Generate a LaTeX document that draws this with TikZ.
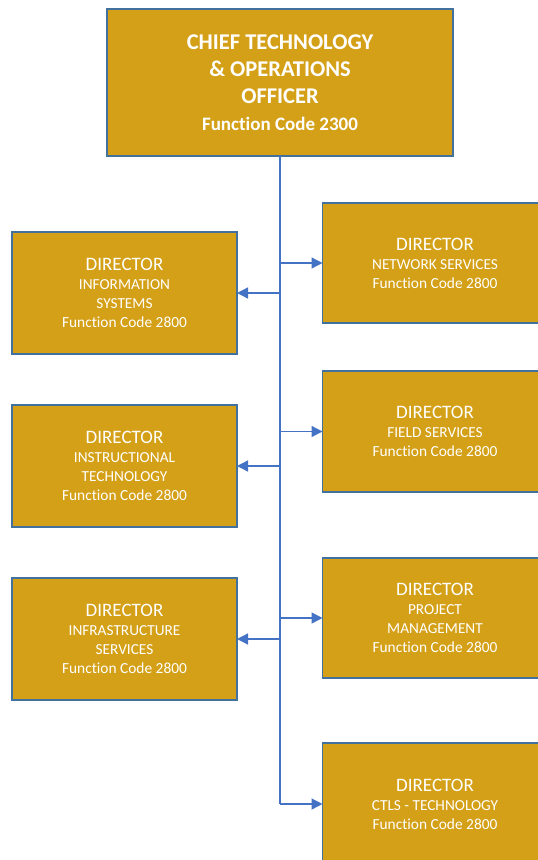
\documentclass[tikz,border=0pt]{standalone}
\usepackage{fontspec}
\setmainfont{Carlito}[Ligatures=NoCommon]
\usetikzlibrary{arrows.meta}
\definecolor{gold}{HTML}{D4A017}
\definecolor{edgeblue}{HTML}{41719C}
\definecolor{connblue}{HTML}{4472C4}
\newcommand{\dirtxt}[2]{{\fontsize{19}{19}\selectfont DIRECTOR}\\#1\\{\fontsize{15.4}{19}\selectfont Function Code #2}}
\begin{document}
\begin{tikzpicture}[x=1pt,y=-1pt,
  box/.style={draw=edgeblue, line width=1.6pt, fill=gold, text=white, align=center,
    inner sep=0pt, outer sep=0pt, minimum width=225pt, minimum height=122pt,
    font=\fontsize{15.3}{19}\selectfont},
  conn/.style={draw=connblue, line width=1.3pt},
  arr/.style={conn, -{Triangle[length=11pt,width=11pt]}}]
\useasboundingbox (0,0) rectangle (538,860);
\clip (0,0) rectangle (538,860);
\node[box, minimum width=346pt, minimum height=147pt, font=\fontsize{22.5}{27}\selectfont\bfseries] (cto) at (280,82.5)
  {CHIEF TECHNOLOGY\\\& OPERATIONS\\OFFICER\\{\fontsize{19}{25}\selectfont\bfseries Function Code 2300}};
\node[box] (is) at (124.5,293) {\dirtxt{INFORMATION\\SYSTEMS}{2800}};
\node[box] (it) at (124.5,466) {\dirtxt{INSTRUCTIONAL\\TECHNOLOGY}{2800}};
\node[box] (inf) at (124.5,639) {\dirtxt{INFRASTRUCTURE\\SERVICES}{2800}};
\node[box, minimum height=120pt] (ns) at (435,263) {\dirtxt{NETWORK SERVICES}{2800}};
\node[box, minimum height=121pt] (fs) at (435,431.5) {\dirtxt{FIELD SERVICES}{2800}};
\node[box, minimum height=120pt] (pm) at (435,618) {\dirtxt{PROJECT\\MANAGEMENT}{2800}};
\node[box, minimum height=122pt] (ctls) at (435,804) {\dirtxt{CTLS - TECHNOLOGY}{2800}};
\draw[conn] (cto.south) -- (cto.south |- ctls.west);
\foreach \n in {is,it,inf,ns,fs,pm,ctls}{
  \draw[arr] (cto.south |- \n.center) -- (\n);
}
\end{tikzpicture}
\end{document}
